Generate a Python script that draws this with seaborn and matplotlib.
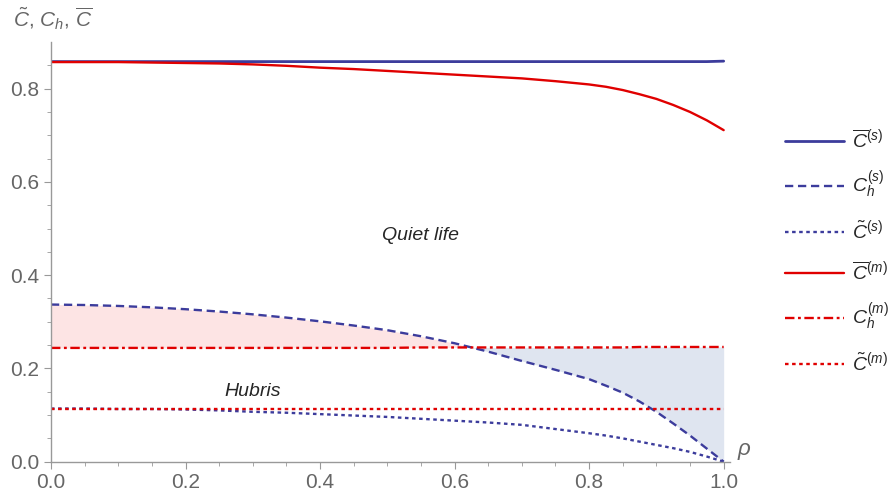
import numpy as np
import pandas as pd
import seaborn as sns
from matplotlib import pyplot as plt
import matplotlib

# values
rho = [0.0, 0.05, 0.1, 0.15, 0.2, 0.25, 0.3, 0.35, 0.4, 0.45, 0.5, 0.55, 0.6, 0.65,
       0.7, 0.75, 0.8, 0.825, 0.85, 0.875, 0.9, 0.925, 0.95, 0.975, 1.0]
cbar_s = [0.858, 0.858, 0.858, 0.858, 0.858, 0.858, 0.858, 0.858, 0.858, 0.858, 0.858, 0.858,
          0.858, 0.858, 0.858, 0.858, 0.858, 0.858, 0.858, 0.858, 0.858, 0.858, 0.858, 0.858,
          0.859]
ch_s = [0.337, 0.336, 0.334, 0.331, 0.327, 0.322, 0.316, 0.309, 0.301, 0.292, 0.282, 0.269,
        0.254, 0.236, 0.216, 0.197, 0.177, 0.163, 0.148, 0.129, 0.107, 0.082, 0.056, 0.028,
        0.0]
ctil_s = [0.114, 0.114, 0.113, 0.113, 0.112, 0.110, 0.107, 0.105, 0.102, 0.099, 0.096, 0.092,
          0.088, 0.084, 0.079, 0.070, 0.061, 0.056, 0.050, 0.043, 0.036, 0.029, 0.021, 0.011,
          0.0]
cbar_m = [0.857, 0.857, 0.857, 0.856, 0.855, 0.854, 0.852, 0.849, 0.845, 0.842, 0.838, 0.834,
          0.830, 0.826, 0.822, 0.816, 0.809, 0.804, 0.797, 0.788, 0.778, 0.765, 0.750, 0.732,
          0.711]
ch_m = [0.244, 0.244, 0.244, 0.244, 0.244, 0.244, 0.244, 0.244, 0.244, 0.244, 0.244, 0.245,
        0.245, 0.245, 0.245, 0.245, 0.245, 0.245, 0.245, 0.246, 0.246, 0.246, 0.246, 0.246,
        0.246]
ctil_m = [0.114] * len(rho)

labels = [r'$\overline{C}^{(s)}$', r'$C_h^{(s)}$', r'$\tilde{C}^{(s)}$',
          r'$\overline{C}^{(m)}$', r'$C_h^{(m)}$', r'$\tilde{C}^{(m)}$']

df = pd.DataFrame({'rho': rho, 'cbar_s': cbar_s, 'ch_s': ch_s, 'ctil_s': ctil_s,
                   'cbar_m': cbar_m, 'ch_m': ch_m, 'ctil_m': ctil_m})

sns.set_style('ticks')
plt.rcParams['font.family'] = ['Liberation Sans', 'DejaVu Sans']
plt.rcParams['mathtext.fontset'] = 'custom'
plt.rcParams['mathtext.rm'] = 'Liberation Sans'
plt.rcParams['mathtext.it'] = 'Liberation Sans:italic'
plt.rcParams['mathtext.bf'] = 'Liberation Sans:bold'

blue = '#3c3c9c'
red = '#e00000'
gray = '#666666'

fig = plt.figure(figsize=(8.94, 4.92), dpi=100)
ax = fig.add_axes([0.057, 0.0616, 0.76, 0.853])

# shaded regions between C_h^(s) and C_h^(m)
ch_s_arr = np.array(ch_s)
ch_m_arr = np.array(ch_m)
ax.fill_between(rho, ch_s_arr, ch_m_arr, where=ch_s_arr >= ch_m_arr, interpolate=True,
                color='#fde4e4', lw=0)
ax.fill_between(rho, ch_s_arr, ch_m_arr, where=ch_s_arr <= ch_m_arr, interpolate=True,
                color='#dfe5f0', lw=0)

lw = 1.7
sns.lineplot(data=df, x='rho', y='cbar_s', ax=ax, color=blue, lw=2.0, label=labels[0])
sns.lineplot(data=df, x='rho', y='ch_s', ax=ax, color=blue, lw=lw, label=labels[1],
             linestyle=(0, (3.5, 2)))
sns.lineplot(data=df, x='rho', y='ctil_s', ax=ax, color=blue, lw=lw, label=labels[2],
             linestyle=(0, (1.5, 1.5)))
sns.lineplot(data=df, x='rho', y='cbar_m', ax=ax, color=red, lw=lw, label=labels[3])
sns.lineplot(data=df, x='rho', y='ch_m', ax=ax, color=red, lw=lw, label=labels[4],
             linestyle=(0, (4, 1.5, 1.2, 1.5)))
sns.lineplot(data=df, x='rho', y='ctil_m', ax=ax, color=red, lw=lw, label=labels[5],
             linestyle=(0, (1.5, 1.5)))

ax.set_xlim(0, 1.01)
ax.set_ylim(0, 0.9)
ax.set_xticks([0.0, 0.2, 0.4, 0.6, 0.8, 1.0])
ax.set_yticks([0.0, 0.2, 0.4, 0.6, 0.8])
ax.set_xticks(np.arange(0, 1.0001, 0.05), minor=True)
ax.set_yticks(np.arange(0, 0.9, 0.05), minor=True)
ax.xaxis.set_major_formatter(matplotlib.ticker.FormatStrFormatter('%.1f'))
ax.yaxis.set_major_formatter(matplotlib.ticker.FormatStrFormatter('%.1f'))
ax.tick_params(which='major', length=5, width=0.8, color='#999999', labelsize=15,
               labelcolor=gray)
ax.tick_params(which='minor', length=3, width=0.6, color='#999999')
for side in ['top', 'right']:
    ax.spines[side].set_visible(False)
for side in ['left', 'bottom']:
    ax.spines[side].set_color('#999999')
    ax.spines[side].set_linewidth(1.0)

ax.set_xlabel('')
ax.set_ylabel('')
ax.text(1.02, 0.0, r'$\rho$', fontsize=16, color=gray, ha='left', va='bottom',
        transform=ax.transData)
fig.text(0.014, 0.935, r'$\tilde{C}$, $C_h$, $\overline{C}$', fontsize=15, color=gray,
         ha='left', va='bottom')

ax.text(0.55, 0.486, 'Quiet life', fontsize=14, style='italic', ha='center', va='center')
ax.text(0.30, 0.150, 'Hubris', fontsize=14, style='italic', ha='center', va='center')

ax.legend(loc='upper left', bbox_to_anchor=(1.055, 0.835), frameon=False, fontsize=14,
          handlelength=3.0, handletextpad=0.45, labelspacing=0.95)

fig.savefig('out.png', dpi=100)
